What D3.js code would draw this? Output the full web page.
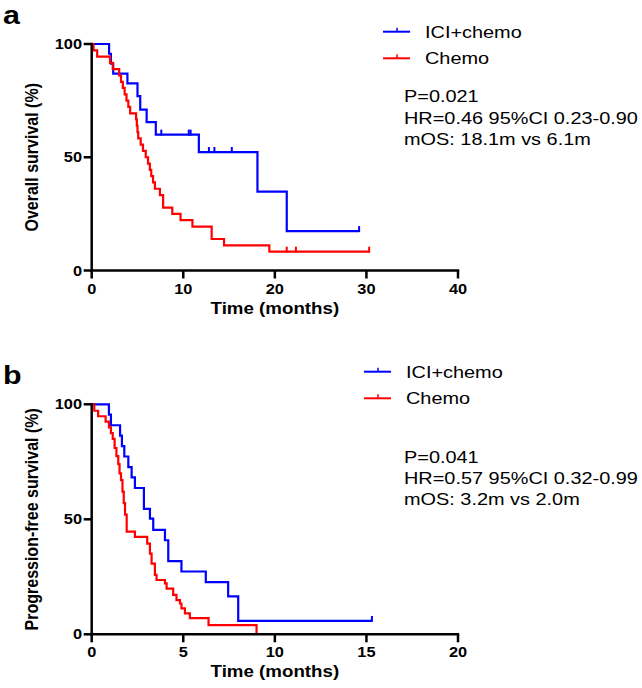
<!DOCTYPE html>
<html>
<head>
<meta charset="utf-8">
<script src="https://cdn.jsdelivr.net/npm/d3@7"></script>
<style>
  body { margin: 0; background: #fff; }
  text { font-family: Arial, "Liberation Sans", sans-serif; }
</style>
</head>
<body>
<div id="chart"></div>
<script>
// panel a: overall survival (event times in months, survival % after each event)
const osIciTime = [1.9, 2.1, 2.35, 3.9, 5.0, 5.3, 6.0, 7.0, 11.7, 18.1, 21.3];
const osIciSurv = [95.7, 91.3, 86.9, 82.6, 77.0, 71.0, 65.5, 60.0, 52.3, 34.8, 17.4];
const osIciCensor = [7.6, 10.6, 10.8, 12.8, 13.4, 15.3, 29.2];
const osIciEnd = 29.2;

const osChemoTime = [0.2, 0.6, 2.0, 2.3, 3.0, 3.2, 3.4, 3.6, 3.8, 4.0, 4.2, 4.85, 4.93, 5.0, 5.08,
  5.35, 5.6, 5.9, 6.15, 6.35, 6.5, 6.7, 6.9, 7.45, 7.8, 8.8, 9.7, 11.0, 13.1, 14.45, 19.4];
const osChemoSurv = [97.2, 94.4, 91.7, 88.9, 86.1, 83.3, 80.6, 77.8, 75.0, 72.2, 69.4, 66.7, 63.9, 61.1, 58.3,
  55.6, 52.8, 50.0, 47.2, 44.4, 41.7, 38.9, 36.1, 33.3, 27.8, 25.0, 22.2, 19.4, 13.9, 11.1, 8.3];
const osChemoCensor = [21.3, 22.3, 30.3];
const osChemoEnd = 30.3;

// panel b: progression-free survival
const pfsIciTime = [0.94, 1.05, 1.55, 1.65, 1.78, 2.0, 2.18, 2.36, 2.85, 3.18, 3.36, 4.0, 4.18, 4.9, 6.23, 7.45, 8.0];
const pfsIciSurv = [95.5, 90.9, 86.4, 81.8, 77.3, 72.7, 68.2, 63.6, 54.5, 50.3, 45.4, 40.9, 31.8, 27.3, 22.7, 16.5, 5.8];
const pfsIciCensor = [15.3];
const pfsIciEnd = 15.3;

const pfsChemoTime = [0.14, 0.35, 0.76, 0.94, 1.05, 1.15, 1.25, 1.35, 1.45, 1.52, 1.6, 1.68, 1.75, 1.82, 1.91,
  2.36, 3.03, 3.18, 3.27, 3.45, 3.54, 4.0, 4.09, 4.45, 4.63, 4.82, 4.9, 5.09, 5.36, 6.38, 9.0];
const pfsChemoSurv = [97.2, 94.8, 92.5, 90.0, 87.5, 85.0, 81.0, 77.5, 74.0, 70.0, 67.0, 62.0, 57.0, 52.0, 44.6,
  42.4, 39.4, 35.1, 30.7, 25.8, 23.6, 22.1, 19.9, 17.1, 14.9, 13.4, 11.3, 9.1, 7.0, 4.0, 0];
const pfsChemoCensor = [];
const pfsChemoEnd = 9.0;

const seriesNames = ['ICI+chemo', 'Chemo'];
const seriesColors = ['#0000ff', '#ff0000'];
const yTicks = [0, 50, 100];
const osXTicks = [0, 10, 20, 30, 40];
const pfsXTicks = [0, 5, 10, 15, 20];
const osStats = ['P=0.021', 'HR=0.46 95%CI 0.23-0.90', 'mOS: 18.1m vs 6.1m'];
const pfsStats = ['P=0.041', 'HR=0.57 95%CI 0.32-0.99', 'mOS: 3.2m vs 2.0m'];

const width = 642;
const height = 688;
const SX = 1.17; // the figure is stretched horizontally

const svg = d3.select('#chart')
  .append('svg')
  .attr('width', width)
  .attr('height', height);

function addText(g, x, y, str, size, weight, anchor) {
  return g.append('text')
    .attr('transform', `translate(${x},${y}) scale(${SX},1)`)
    .attr('text-anchor', anchor || 'start')
    .attr('font-size', size)
    .attr('font-weight', weight || 'normal')
    .attr('fill', '#000')
    .text(str);
}

// survival at time t from a step series
function survAt(times, surv, t) {
  const i = d3.bisectRight(times, t);
  return i === 0 ? 100 : surv[i - 1];
}

function drawPanel(cfg) {
  const g = svg.append('g').attr('transform', `translate(0,${cfg.top})`);

  const x = d3.scaleLinear().domain([0, cfg.xMax]).range([91.7, 458]);
  const y = d3.scaleLinear().domain([0, 100]).range([cfg.h, 0]);

  // curves
  const line = d3.line()
    .x(d => x(d[0]))
    .y(d => y(d[1]))
    .curve(d3.curveStepAfter);

  cfg.series.forEach((s, i) => {
    const pts = [[0, 100]];
    s.time.forEach((t, j) => pts.push([t, s.surv[j]]));
    pts.push([s.end, s.surv[s.surv.length - 1]]);

    g.append('path')
      .datum(pts)
      .attr('d', line)
      .attr('fill', 'none')
      .attr('stroke', seriesColors[i])
      .attr('stroke-width', 2.2);

    g.selectAll(null)
      .data(s.censor)
      .enter()
      .append('line')
      .attr('x1', d => x(d))
      .attr('x2', d => x(d))
      .attr('y1', d => y(survAt(s.time, s.surv, d)) - 5)
      .attr('y2', d => y(survAt(s.time, s.surv, d)) + 1)
      .attr('stroke', seriesColors[i])
      .attr('stroke-width', 2);
  });

  // axes
  const axisG = g.append('g');
  axisG.append('line')
    .attr('x1', x(0)).attr('x2', x(0))
    .attr('y1', y(0) + 1.2).attr('y2', y(100) - 1.2)
    .attr('stroke', '#000').attr('stroke-width', 2.5);
  axisG.append('line')
    .attr('x1', x(0) - 1.2).attr('x2', x(cfg.xMax) + 1.2)
    .attr('y1', y(0)).attr('y2', y(0))
    .attr('stroke', '#000').attr('stroke-width', 2.5);

  yTicks.forEach(v => {
    axisG.append('line')
      .attr('x1', x(0) - 8).attr('x2', x(0))
      .attr('y1', y(v)).attr('y2', y(v))
      .attr('stroke', '#000').attr('stroke-width', 2.5);
    addText(axisG, 82, y(v) + 5, v, 14, 'bold', 'end');
  });

  cfg.xTicks.forEach(v => {
    axisG.append('line')
      .attr('x1', x(v)).attr('x2', x(v))
      .attr('y1', y(0)).attr('y2', y(0) + 8)
      .attr('stroke', '#000').attr('stroke-width', 2.5);
    addText(axisG, x(v), y(0) + 23, v, 14, 'bold', 'middle');
  });

  // axis titles
  addText(g, (x(0) + x(cfg.xMax)) / 2, y(0) + 43, 'Time (months)', 16, 'bold', 'middle');
  g.append('text')
    .attr('transform', `translate(38,${y(50)}) scale(${SX},1) rotate(-90)`)
    .attr('text-anchor', 'middle')
    .attr('font-size', 16)
    .attr('font-weight', 'bold')
    .text(cfg.yTitle);

  // panel letter
  addText(g, 3, cfg.letterY, cfg.letter, 26, 'bold');

  // legend
  seriesNames.forEach((name, i) => {
    const ly = cfg.legendY + i * 26.6;
    g.append('line')
      .attr('x1', cfg.legendX).attr('x2', cfg.legendX + 27)
      .attr('y1', ly).attr('y2', ly)
      .attr('stroke', seriesColors[i]).attr('stroke-width', 2);
    g.append('line')
      .attr('x1', cfg.legendX + 14).attr('x2', cfg.legendX + 14)
      .attr('y1', ly - 4).attr('y2', ly)
      .attr('stroke', seriesColors[i]).attr('stroke-width', 1.5);
    addText(g, cfg.legendX + 42, ly + 6, name, 17);
  });

  // stats
  cfg.stats.forEach((s, i) => {
    addText(g, 404, 58.3 + i * 21.3, s, 17);
  });
}

drawPanel({
  top: 44,
  h: 226.5,
  xMax: 40,
  xTicks: osXTicks,
  yTitle: 'Overall survival (%)',
  letter: 'a',
  letterY: -20,
  legendX: 383,
  legendY: -12.3,
  stats: osStats,
  series: [
    { time: osIciTime, surv: osIciSurv, censor: osIciCensor, end: osIciEnd },
    { time: osChemoTime, surv: osChemoSurv, censor: osChemoCensor, end: osChemoEnd }
  ]
});

drawPanel({
  top: 404.3,
  h: 230,
  xMax: 20,
  xTicks: pfsXTicks,
  yTitle: 'Progression-free survival (%)',
  letter: 'b',
  letterY: -20,
  legendX: 364,
  legendY: -32.6,
  stats: pfsStats,
  series: [
    { time: pfsIciTime, surv: pfsIciSurv, censor: pfsIciCensor, end: pfsIciEnd },
    { time: pfsChemoTime, surv: pfsChemoSurv, censor: pfsChemoCensor, end: pfsChemoEnd }
  ]
});
</script>
</body>
</html>
